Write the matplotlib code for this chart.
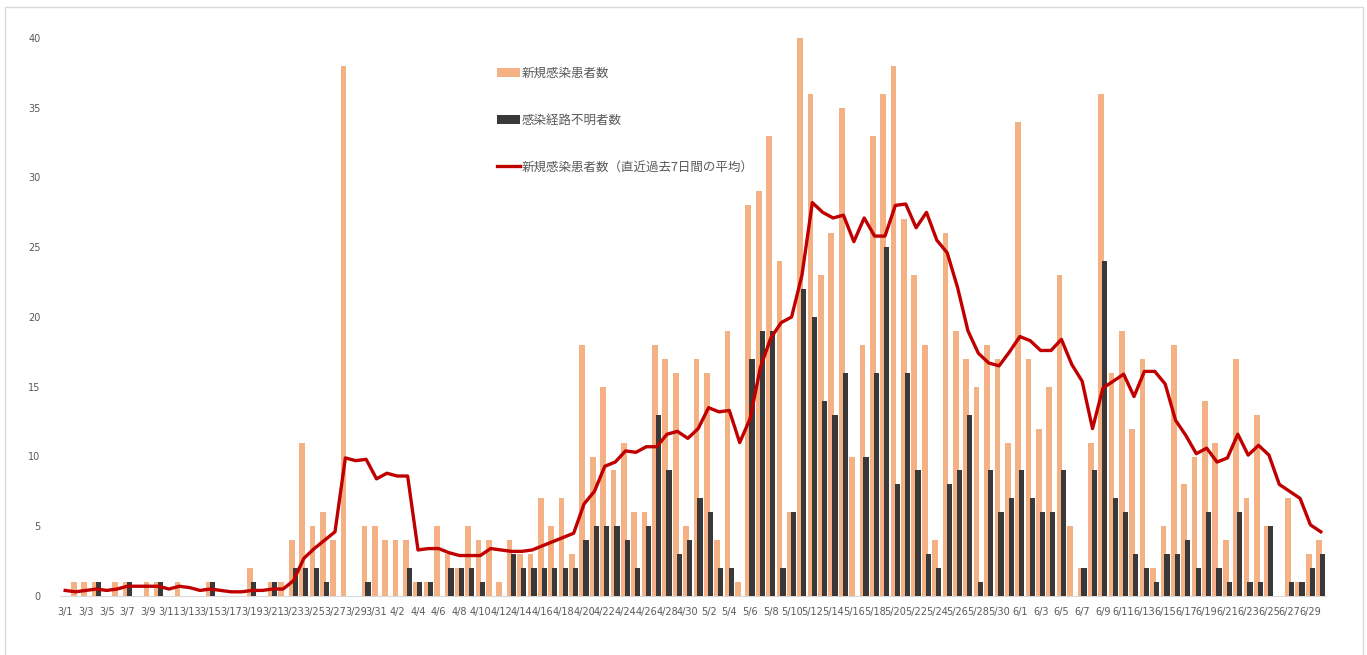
import numpy as np
import pandas as pd
import matplotlib
matplotlib.use("Agg")
import matplotlib.pyplot as plt
from matplotlib.patches import Rectangle

plt.rcParams['font.family'] = ['Noto Sans CJK JP', 'DejaVu Sans']

# daily data 3/1 - 6/30
days = pd.date_range("2020-03-01", "2020-06-30")
day_labels = [f"{d.month}/{d.day}" for d in days]

new_cases = [
    # March
    0, 1, 1, 1, 0, 1, 1, 0, 1, 1, 0, 1, 0, 0, 1, 0, 0, 0, 2, 0,
    1, 1, 4, 11, 5, 6, 4, 38, 0, 5, 5,
    # April
    4, 4, 4, 1, 1, 5, 3, 2, 5, 4, 4, 1, 4, 3, 3, 7, 5, 7, 3, 18,
    10, 15, 9, 11, 6, 6, 18, 17, 16, 5,
    # May
    17, 16, 4, 19, 1, 28, 29, 33, 24, 6, 40, 36, 23, 26, 35, 10, 18, 33, 36, 38,
    27, 23, 18, 4, 26, 19, 17, 15, 18, 17, 11,
    # June
    34, 17, 12, 15, 23, 5, 2, 11, 36, 16, 19, 12, 17, 2, 5, 18, 8, 10, 14, 11,
    4, 17, 7, 13, 5, 0, 7, 1, 3, 4,
]

unknown_route = [
    0, 0, 0, 1, 0, 0, 1, 0, 0, 1, 0, 0, 0, 0, 1, 0, 0, 0, 1, 0,
    1, 0, 2, 2, 2, 1, 0, 0, 0, 1, 0,
    0, 0, 2, 1, 1, 0, 2, 2, 2, 1, 0, 0, 3, 2, 2, 2, 2, 2, 2, 4,
    5, 5, 5, 4, 2, 5, 13, 9, 3, 4,
    7, 6, 2, 2, 0, 17, 19, 19, 2, 6, 22, 20, 14, 13, 16, 0, 10, 16, 25, 8,
    16, 9, 3, 2, 8, 9, 13, 1, 9, 6, 7,
    9, 7, 6, 6, 9, 0, 2, 9, 24, 7, 6, 3, 2, 1, 3, 3, 4, 2, 6, 2,
    1, 6, 1, 1, 5, 0, 1, 1, 2, 3,
]

avg_7day = [
    0.4, 0.3, 0.4, 0.5, 0.4, 0.5, 0.7, 0.7, 0.7, 0.7, 0.5, 0.7, 0.6, 0.4, 0.5, 0.4,
    0.3, 0.3, 0.4, 0.4, 0.5, 0.5, 1.1, 2.7, 3.4, 4.0, 4.6, 9.9, 9.7, 9.8, 8.4,
    8.8, 8.6, 8.6, 3.3, 3.4, 3.4, 3.1, 2.9, 2.9, 2.9, 3.4, 3.3, 3.2, 3.2, 3.3,
    3.6, 3.9, 4.2, 4.5, 6.6, 7.5, 9.3, 9.6, 10.4, 10.3, 10.7, 10.7, 11.6, 11.8, 11.3,
    12.0, 13.5, 13.2, 13.3, 11.0, 12.7, 16.4, 18.5, 19.6, 20.0, 23.0, 28.2, 27.5,
    27.1, 27.3, 25.4, 27.1, 25.8, 25.8, 28.0, 28.1, 26.4, 27.5, 25.5, 24.6, 22.1,
    19.0, 17.4, 16.7, 16.5, 17.5,
    18.6, 18.3, 17.6, 17.6, 18.4, 16.6, 15.4, 12.0, 14.9, 15.4, 15.9, 14.3, 16.1,
    16.1, 15.2, 12.6, 11.5, 10.2, 10.6, 9.6, 9.9, 11.6, 10.1, 10.8, 10.1, 8.0,
    7.5, 7.0, 5.1, 4.6,
]

series_names = ["新規感染患者数", "感染経路不明者数", "新規感染患者数（直近過去7日間の平均）"]

x = np.arange(len(days))
grey = "#595959"

fig = plt.figure(figsize=(13.67, 6.55), dpi=100)
ax = fig.add_axes([60 / 1367, 1 - 596 / 655, (1326 - 60) / 1367, (596 - 38) / 655])

b1 = ax.bar(x - 0.17, new_cases, width=0.55, color="#F4B183", label=series_names[0], zorder=2)
b2 = ax.bar(x + 0.18, unknown_route, width=0.5, color="#3A3838", label=series_names[1], zorder=3)
l1, = ax.plot(x, avg_7day, color="#C00000", lw=2.4, label=series_names[2], zorder=4)

ax.set_xlim(-0.5, len(days) - 0.5)
ax.set_ylim(0, 40)
ax.set_yticks(range(0, 41, 5))
ax.set_xticks(x[::2])
ax.set_xticklabels(day_labels[::2], family="DejaVu Sans")
ax.tick_params(axis="x", length=0, pad=8, labelsize=7, colors=grey)
ax.tick_params(axis="y", length=0, pad=14, labelsize=7, colors=grey)
for lbl in ax.get_yticklabels():
    lbl.set_family("DejaVu Sans")

for s in ["top", "right", "left"]:
    ax.spines[s].set_visible(False)
ax.spines["bottom"].set_color("#D9D9D9")

ax.legend(handles=[b1, b2, l1], loc="upper left",
          bbox_to_anchor=(497 / 1367, 1 - 67 / 655),
          bbox_transform=fig.transFigure, frameon=False, fontsize=9,
          labelcolor=grey, labelspacing=2.7, handlelength=1.8,
          handletextpad=0.2, borderpad=0, borderaxespad=0)

# outer frame
fig.patches.append(Rectangle((5 / 1367, -0.01), (1363 - 5) / 1367, 1 - 7 / 655 + 0.01,
                             transform=fig.transFigure, fill=False,
                             edgecolor="#D9D9D9", lw=1))

fig.savefig("out.png", dpi=100)
